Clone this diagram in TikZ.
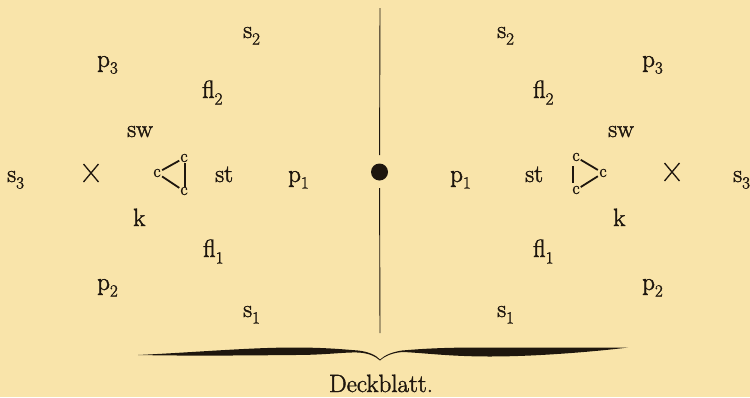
\documentclass[tikz,border=0pt]{standalone}
\usepackage{fontspec}
\usepackage{tikz}
\newfontfamily\hv{Latin Modern Roman}[FakeBold=1.6]
\definecolor{paper}{RGB}{249,228,170}
\definecolor{ink}{RGB}{30,22,14}
\newcommand{\lbl}[2]{#1\raisebox{-6.5pt}{\fontsize{17}{17}\selectfont #2}}
\begin{document}
\begin{tikzpicture}[x=1pt,y=-1pt,
  lab/.style={anchor=base west, inner sep=0pt, text=ink, font=\hv\fontsize{25}{30}\selectfont},
  cc/.style={inner sep=0pt, text=ink, font=\hv\fontsize{18}{18}\selectfont},
  bond/.style={draw=ink, line width=1.8pt},
  bar/.style={draw=ink, line width=1.2pt},
  cross/.style={draw=ink, line width=1.3pt},
  axis/.style={draw=ink, line width=0.9pt},
  dotnode/.style={circle, fill=ink, minimum size=17pt, inner sep=0pt}]
\fill[paper] (0,0) rectangle (750,397);
\useasboundingbox (0,0) rectangle (750,397);

% left side
\node[lab] (ls2) at (243,38) {\lbl{s}{2}};
\node[lab] (lp3) at (97,67) {\lbl{p}{3}};
\node[lab] (lfl2) at (202,98) {\lbl{fl}{2}};
\node[lab] (lsw) at (127,137) {sw};
\node[lab] (ls3) at (7,182) {\lbl{s}{3}};
\node[lab] (lst) at (215,182) {st};
\node[lab] (lp1) at (288,182) {\lbl{p}{1}};
\node[lab] (lk) at (133,226) {k};
\node[lab] (lfl1) at (203,257) {\lbl{fl}{1}};
\node[lab] (lp2) at (97,290) {\lbl{p}{2}};
\node[lab] (ls1) at (243,317) {\lbl{s}{1}};

% right side
\node[lab] (rs2) at (497,38) {\lbl{s}{2}};
\node[lab] (rp3) at (642,67) {\lbl{p}{3}};
\node[lab] (rfl2) at (533,98) {\lbl{fl}{2}};
\node[lab] (rsw) at (608,137) {sw};
\node[lab] (rp1) at (450,182) {\lbl{p}{1}};
\node[lab] (rst) at (525,182) {st};
\node[lab] (rs3) at (733,182) {\lbl{s}{3}};
\node[lab] (rk) at (613,226) {k};
\node[lab] (rfl1) at (533,257) {\lbl{fl}{1}};
\node[lab] (rp2) at (642,290) {\lbl{p}{2}};
\node[lab] (rs1) at (497,317) {\lbl{s}{1}};

% crosses
\coordinate (lx) at (91,173);
\coordinate (rx) at (672,172);
\draw[cross] (lx) ++(-7.5,-9) -- ++(15,18);
\draw[cross] (lx) ++(7.5,-9) -- ++(-15,18);
\draw[cross] (rx) ++(-7.5,-9) -- ++(15,18);
\draw[cross] (rx) ++(7.5,-9) -- ++(-15,18);

% left triangle
\node[cc] (lca) at (157,173) {c};
\node[cc] (lct) at (184,158) {c};
\node[cc] (lcb) at (184,191) {c};
\draw[bond, shorten <=1.5pt, shorten >=1pt] (lca) -- (lct);
\draw[bond, shorten <=1.5pt, shorten >=1pt] (lca) -- (lcb);
\draw[bar, shorten <=5pt, shorten >=4pt] ([xshift=1pt]lct.center) -- ([xshift=1pt]lcb.center);

% right triangle
\node[cc] (rcc) at (603,173) {c};
\node[cc] (rct) at (576,157) {c};
\node[cc] (rcb) at (576,190) {c};
\draw[bond, shorten <=1pt, shorten >=1.5pt] (rct) -- (rcc);
\draw[bond, shorten <=1pt, shorten >=1.5pt] (rcb) -- (rcc);
\draw[bar, shorten <=9pt, shorten >=7pt] ([xshift=-3pt]rct.center) -- ([xshift=-3pt]rcb.center);

% axis and dot
\node[dotnode] (dot) at (379.5,172) {};
\coordinate (vtop) at (380,8);
\coordinate (vbot) at (380,333);
\draw[axis, shorten >=17pt] (vtop) -- (dot.center);
\draw[axis, shorten >=16pt] (vbot) -- (dot.center);

% brace
\fill[ink] (138,355)
  .. controls (200,352) and (250,347.5) .. (295,347.5)
  .. controls (325,347.5) and (345,349.5) .. (358,350.5)
  .. controls (368,351.5) and (376,355) .. (380,359.5)
  .. controls (385,355) and (392,352) .. (402,350.5)
  .. controls (420,349) and (440,347.5) .. (480,347.5)
  .. controls (540,347.5) and (600,348) .. (628,347.5)
  .. controls (600,351) and (540,356.5) .. (490,356.5)
  .. controls (450,356.5) and (425,353) .. (403,352)
  .. controls (393,352.5) and (385,356) .. (380,360.5)
  .. controls (375,356) and (368,353) .. (358,352.5)
  .. controls (345,352) and (325,355) .. (295,355)
  .. controls (240,355.5) and (190,356) .. (138,355) -- cycle;
\node[anchor=base, inner sep=0pt, text=ink, font=\hv\fontsize{25}{30}\selectfont] (deck) at (381,392) {Deckblatt.};
\end{tikzpicture}
\end{document}
